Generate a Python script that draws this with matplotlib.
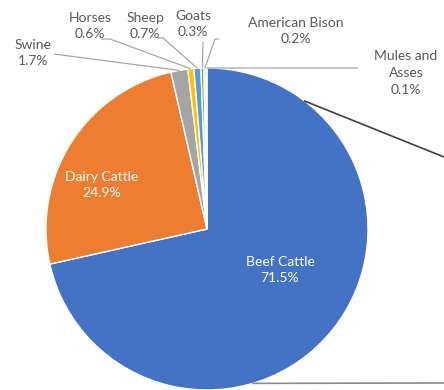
import numpy as np
import matplotlib
matplotlib.use("Agg")
import matplotlib.pyplot as plt

categories = ["Beef Cattle", "Dairy Cattle", "Swine", "Horses", "Sheep", "Goats",
              "American Bison", "Mules and\nAsses"]
values = [71.5, 24.9, 1.7, 0.6, 0.7, 0.3, 0.2, 0.1]
colors = ["#4472C4", "#ED7D31", "#A5A5A5", "#FFC000", "#5B9BD5", "#70AD47",
          "#A9C08F", "#C9C9C9"]

W, H = 444, 390
fig = plt.figure(figsize=(W / 100, H / 100), dpi=100)
ax = fig.add_axes([0, 0, 1, 1])
ax.set_xlim(0, W)
ax.set_ylim(0, H)
ax.set_aspect("equal")
ax.axis("off")

cx, cy, R = 207, H - 229, 161
wedges, _ = ax.pie(values, colors=colors, startangle=90, counterclock=False,
                   center=(cx, cy), radius=R, frame=True,
                   wedgeprops=dict(edgecolor="white", linewidth=1.0))
ax.set_xlim(0, W)
ax.set_ylim(0, H)
ax.axis("off")

font = ["Lato", "DejaVu Sans"]
txt_col = "#595959"
line_col = "#A6A6A6"
fs = 10

def fmt(c, v):
    return f"{c}\n{v:.1f}%"

# inside labels (image pixel coordinates for placement)
inside = {0: (280, 270), 1: (102, 185)}
for i, (x, y) in inside.items():
    ax.text(x, H - y, fmt(categories[i], values[i]), ha="center", va="center",
            color="white", fontsize=fs, family=font, linespacing=1.45)

outside = {2: (33, 53), 3: (90, 26), 4: (145, 26), 5: (193, 24),
           6: (296, 31), 7: (406, 73)}
for i, (x, y) in outside.items():
    ax.text(x, H - y, fmt(categories[i], values[i]), ha="center", va="center",
            color=txt_col, fontsize=fs, family=font, linespacing=1.45)

# leader lines to wedge midpoints
def mid_point(i):
    w = wedges[i]
    a = np.deg2rad((w.theta1 + w.theta2) / 2)
    return cx + R * np.cos(a), cy + R * np.sin(a)

starts = {2: [(54, 54)], 3: [(101, 39), (110, 39)], 4: [(158, 38), (163, 38)],
          5: [(203, 42)], 6: [(219, 39), (215, 39)], 7: [(358, 68)]}
for i, pts in starts.items():
    mx, my = mid_point(i)
    xs = [p[0] for p in pts] + [mx]
    ys = [H - p[1] for p in pts] + [my]
    ax.plot(xs, ys, color=line_col, lw=0.9, solid_capstyle="butt")

# pie-of-pie connector lines
for ang, end, col in [(52.6, (444, 157), "#404040"), (-73.5, (444, 383), "#8C8C8C")]:
    a = np.deg2rad(ang)
    ax.plot([cx + R * np.cos(a), end[0]], [cy + R * np.sin(a), H - end[1]],
            color=col, lw=1.2, clip_on=False)

fig.savefig("out.png", dpi=100, facecolor="white")
